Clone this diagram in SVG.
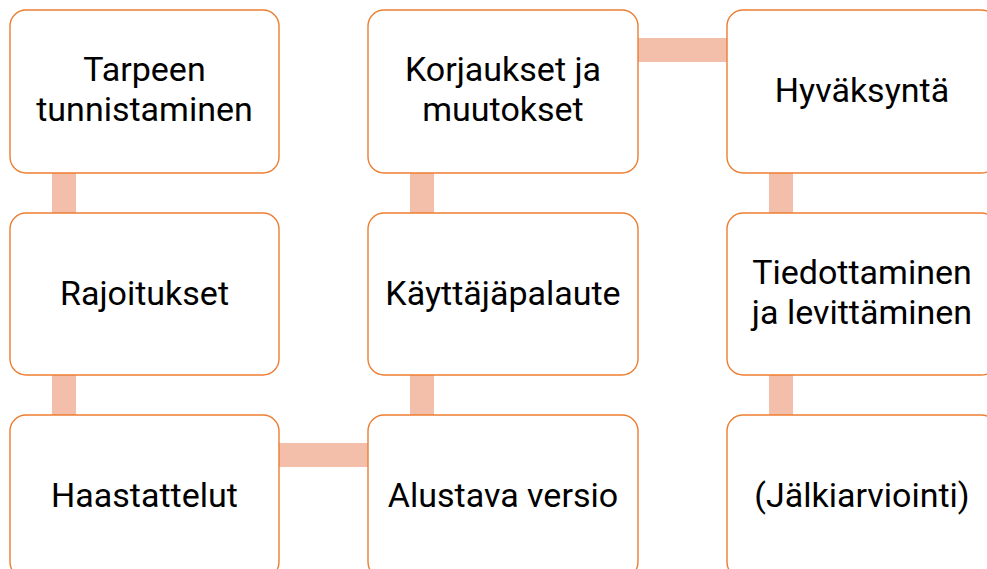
<svg xmlns="http://www.w3.org/2000/svg" width="987" height="569" viewBox="0 0 987 569">
<style>
.box{fill:#FFFFFF;stroke:#ED7D31;stroke-width:1.4}
.conn{fill:#F4BFAA;stroke:none}
.lbl{font-family:Roboto,"Open Sans",sans-serif;font-size:34px;fill:#000000;text-anchor:middle}
</style>
<rect width="987" height="569" fill="#FFFFFF"/>
<g id="connectors">
<rect class="conn" x="52" y="170" width="24" height="46"/>
<rect class="conn" x="52" y="372" width="24" height="46"/>
<rect class="conn" x="276" y="443" width="95" height="24"/>
<rect class="conn" x="410" y="372" width="24" height="46"/>
<rect class="conn" x="410" y="170" width="24" height="46"/>
<rect class="conn" x="635" y="38" width="95" height="24"/>
<rect class="conn" x="769" y="170" width="24" height="46"/>
<rect class="conn" x="769" y="372" width="24" height="46"/>
</g>
<g id="n1">
<rect class="box" x="10" y="10" width="269" height="163" rx="16"/>
<text class="lbl" x="144.5" y="81">Tarpeen<tspan x="144.5" dy="40">tunnistaminen</tspan></text>
</g>
<g id="n2">
<rect class="box" x="10" y="213" width="269" height="162" rx="16"/>
<text class="lbl" x="144.5" y="305">Rajoitukset</text>
</g>
<g id="n3">
<rect class="box" x="10" y="415" width="269" height="163" rx="16"/>
<text class="lbl" x="144.5" y="507">Haastattelut</text>
</g>
<g id="n4">
<rect class="box" x="368" y="415" width="270" height="163" rx="16"/>
<text class="lbl" x="503" y="507">Alustava versio</text>
</g>
<g id="n5">
<rect class="box" x="368" y="213" width="270" height="162" rx="16"/>
<text class="lbl" x="503" y="305">Käyttäjäpalaute</text>
</g>
<g id="n6">
<rect class="box" x="368" y="10" width="270" height="163" rx="16"/>
<text class="lbl" x="503" y="81">Korjaukset ja<tspan x="503" dy="40">muutokset</tspan></text>
</g>
<g id="n7">
<rect class="box" x="727" y="10" width="270" height="163" rx="16"/>
<text class="lbl" x="862" y="102">Hyväksyntä</text>
</g>
<g id="n8">
<rect class="box" x="727" y="213" width="270" height="162" rx="16"/>
<text class="lbl" x="862" y="284">Tiedottaminen<tspan x="862" dy="40">ja levittäminen</tspan></text>
</g>
<g id="n9">
<rect class="box" x="727" y="415" width="270" height="163" rx="16"/>
<text class="lbl" x="862" y="507">(Jälkiarviointi)</text>
</g>
</svg>
